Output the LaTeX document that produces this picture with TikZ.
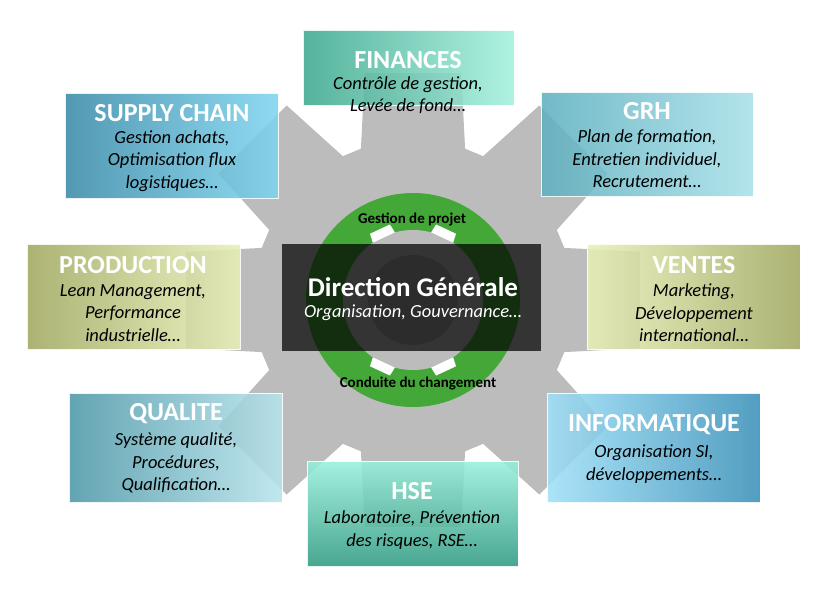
\documentclass[tikz,border=0pt]{standalone}
\usepackage{fontspec}
\setmainfont{Carlito}
\definecolor{gearg}{HTML}{BCBCBC}
\definecolor{ringg}{HTML}{44A838}
\definecolor{finL}{HTML}{3EA88E}\definecolor{finR}{HTML}{A5F0DE}
\definecolor{grhL}{RGB}{95,176,192}\definecolor{grhR}{RGB}{168,224,232}
\definecolor{supL}{RGB}{59,138,168}\definecolor{supR}{RGB}{127,213,240}
\definecolor{proD}{RGB}{160,168,96}\definecolor{proL}{RGB}{232,240,184}
\definecolor{quaL}{RGB}{77,152,168}\definecolor{quaR}{RGB}{184,228,236}
\definecolor{infL}{RGB}{160,224,248}\definecolor{infR}{RGB}{58,144,184}
\definecolor{hseT}{RGB}{152,240,220}\definecolor{hseB}{RGB}{47,154,128}
\begin{document}
\begin{tikzpicture}[x=1pt,y=-1pt,
  box/.style={draw=white,line width=0.5pt,opacity=0.88},
  ttl/.style={text=white,font=\bfseries\fontsize{26}{28}\selectfont},
  sub/.style={text=black,font=\itshape\fontsize{18.5}{22.5}\selectfont,align=center}]
\useasboundingbox (0,0) rectangle (827,597);
\coordinate (c) at (413,300);
% gear
\fill[gearg] ([shift={(-19:160)}]c) \foreach \k in {0,...,7}{ -- ([shift={(\k*45-19:160)}]c) -- ([shift={(\k*45-12:232)}]c) -- ([shift={(\k*45+12:232)}]c) -- ([shift={(\k*45+19:160)}]c)} -- cycle;
% green ring
\fill[ringg] (c) circle (107);
\fill[gearg] (c) circle (70);
\foreach \a in {65,115,245,295}{\fill[white] ([shift={(\a-10:70)}]c) -- ([shift={(\a-8:79)}]c) -- ([shift={(\a+8:79)}]c) -- ([shift={(\a+10:70)}]c) -- cycle;}
\fill[gray!75] (c) circle (45);
% center box
\fill[black,opacity=0.72] (282,244) rectangle (541,351);
\node[text=white,font=\bfseries\fontsize{27}{29}\selectfont] (dg) at (413,287) {Direction Générale};
\node[text=white,font=\itshape\fontsize{18.5}{21}\selectfont] (dgs) at (413,313) {Organisation, Gouvernance…};
\node[font=\bfseries\fontsize{15}{17}\selectfont] (gp) at (412,219) {Gestion de projet};
\node[font=\bfseries\fontsize{15}{17}\selectfont] (cc) at (418,384) {Conduite du changement};
% boxes
\shade[box,left color=finL,right color=finR] (303,30) rectangle (514,105);
\node[ttl] (f) at (408,60) {FINANCES};
\node[sub] (fs) at (408,95) {Contrôle de gestion,\\Levée de fond…};
\shade[box,left color=grhL,right color=grhR] (541,92) rectangle (753,196);
\node[ttl] (g) at (647,111) {GRH};
\node[sub] (gs) at (647,159) {Plan de formation,\\Entretien individuel,\\Recrutement…};
\shade[box,left color=supL,right color=supR] (65,93) rectangle (278,198);
\node[ttl] (s) at (172,113) {SUPPLY CHAIN};
\node[sub] (ss) at (172,161) {Gestion achats,\\Optimisation flux\\logistiques…};
\shade[box,left color=proD,right color=proL] (27,244) rectangle (240,349);
\node[ttl] (p) at (133,265) {PRODUCTION};
\node[sub] (ps) at (133,313) {Lean Management,\\Performance\\industrielle…};
\shade[box,right color=proD,left color=proL] (587,244) rectangle (800,349);
\node[ttl] (v) at (694,265) {VENTES};
\node[sub] (vs) at (694,313) {Marketing,\\Développement\\international…};
\shade[box,left color=quaL,right color=quaR] (69,393) rectangle (282,502);
\node[ttl] (q) at (176,414) {QUALITE};
\node[sub] (qs) at (176,463) {Système qualité,\\Procédures,\\Qualification…};
\shade[box,left color=infL,right color=infR] (547,393) rectangle (760,502);
\node[ttl] (i) at (654,425) {INFORMATIQUE};
\node[sub] (is) at (654,464) {Organisation SI,\\développements…};
\shade[box,top color=hseT,bottom color=hseB] (307,461) rectangle (518,566);
\node[ttl] (h) at (412,491) {HSE};
\node[sub] (hs) at (412,530) {Laboratoire, Prévention\\des risques, RSE…};
\end{tikzpicture}
\end{document}
